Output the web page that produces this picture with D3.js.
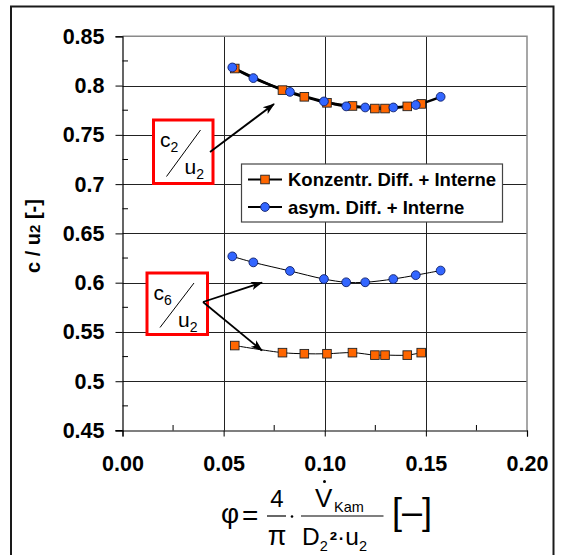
<!DOCTYPE html>
<html>
<head>
<meta charset="utf-8">
<script src="https://cdn.jsdelivr.net/npm/d3@7"></script>
<style>
  html, body { margin: 0; padding: 0; background: #fff; }
  svg { display: block; }
  text { font-family: "Liberation Sans", Arial, sans-serif; }
</style>
</head>
<body>
<svg id="chart" width="562" height="555"></svg>
<script>
// ---------------- data ----------------
const phiKonz = [0.0555, 0.0791, 0.0899, 0.1011, 0.1137, 0.1248, 0.1298, 0.1408, 0.1477];
const konzC2  = [0.8173, 0.7954, 0.7886, 0.7825, 0.7793, 0.7767, 0.7767, 0.7789, 0.7814];
const konzC6  = [0.5362, 0.5290, 0.5279, 0.5279, 0.5290, 0.5265, 0.5265, 0.5265, 0.5290];
const phiAsym = [0.0543, 0.0647, 0.0828, 0.0996, 0.1106, 0.1200, 0.1339, 0.1450, 0.1573];
const asymC2  = [0.8184, 0.8076, 0.7936, 0.7839, 0.7789, 0.7778, 0.7778, 0.7803, 0.7886];
const asymC6  = [0.6267, 0.6206, 0.6119, 0.6037, 0.6004, 0.6004, 0.6037, 0.6076, 0.6123];
const xTicks = [0.00, 0.05, 0.10, 0.15, 0.20];
const yTicks = [0.45, 0.5, 0.55, 0.6, 0.65, 0.7, 0.75, 0.8, 0.85];
const seriesNames = ["Konzentr. Diff. + Interne", "asym. Diff. + Interne"];

// ---------------- setup ----------------
const svg = d3.select("#chart");
const x = d3.scaleLinear().domain([0, 0.2]).range([122.5, 527]);
const y = d3.scaleLinear().domain([0.45, 0.85]).range([430.5, 36.3]);
const orange = "#ff6600", blue = "#3366ff";

// outer frame
svg.append("rect").attr("x", 11).attr("y", 6.5).attr("width", 542.5).attr("height", 600)
  .attr("fill", "none").attr("stroke", "#1a1a1a").attr("stroke-width", 2);

// grid
const g = svg.append("g");
g.selectAll(".hg").data(yTicks.filter(v => v > 0.45 && v < 0.85)).join("line")
  .attr("x1", x(0)).attr("x2", x(0.2))
  .attr("y1", d => Math.round(y(d)) + 0.5).attr("y2", d => Math.round(y(d)) + 0.5)
  .attr("stroke", "#222").attr("stroke-width", 1);
g.selectAll(".vg").data(xTicks.filter(v => v > 0 && v < 0.2)).join("line")
  .attr("x1", d => Math.round(x(d)) + 0.5).attr("x2", d => Math.round(x(d)) + 0.5)
  .attr("y1", y(0.85)).attr("y2", y(0.45))
  .attr("stroke", "#222").attr("stroke-width", 1);
// plot frame top / right (gray)
g.append("path")
  .attr("d", `M${x(0)},${y(0.85)}H${x(0.2)}V${y(0.45)}`)
  .attr("fill", "none").attr("stroke", "#8a8a8a").attr("stroke-width", 1.5);

// axes
const yAxis = d3.axisLeft(y).tickValues(yTicks).tickSize(7).tickFormat(d => d3.format("")(+d.toFixed(2)));
const yG = svg.append("g").attr("transform", `translate(${x(0)},0)`).call(yAxis);
yG.select(".domain").attr("stroke", "#000").attr("stroke-width", 1.2);
yG.selectAll(".tick line").attr("stroke", "#000");
yG.selectAll(".tick text").attr("font-size", 21.5).attr("font-weight", "bold")
  .attr("font-family", "Liberation Sans, Arial, sans-serif").attr("fill", "#000").attr("x", -18);
const yMinor = d3.range(0.475, 0.85, 0.05);
svg.append("g").selectAll("line").data(yMinor).join("line")
  .attr("x1", x(0)).attr("x2", x(0) + 5.5)
  .attr("y1", d => y(d)).attr("y2", d => y(d)).attr("stroke", "#000");

const xAxis = d3.axisBottom(x).tickValues(xTicks).tickSize(6).tickFormat(d3.format(".2f"));
const xG = svg.append("g").attr("transform", `translate(0,${y(0.45)})`).call(xAxis);
xG.select(".domain").attr("stroke", "#000").attr("stroke-width", 1.2);
xG.selectAll(".tick line").attr("stroke", "#000");
xG.selectAll(".tick text").attr("font-size", 21.5).attr("font-weight", "bold")
  .attr("font-family", "Liberation Sans, Arial, sans-serif").attr("fill", "#000").attr("y", 25);
const xMinor = d3.range(0.025, 0.2, 0.05);
svg.append("g").selectAll("line").data(xMinor).join("line")
  .attr("x1", d => x(d)).attr("x2", d => x(d))
  .attr("y1", y(0.45)).attr("y2", y(0.45) - 5.5).attr("stroke", "#000");
svg.append("line").attr("x1", x(0) - 7).attr("x2", x(0)).attr("y1", y(0.45)).attr("y2", y(0.45)).attr("stroke", "#000");

// y axis title
const yt = svg.append("text").attr("transform", `translate(40,236) rotate(-90)`)
  .attr("text-anchor", "middle").attr("font-size", 20).attr("font-weight", "bold");
yt.append("tspan").text("c / u");
yt.append("tspan").attr("font-size", 15).text("2");
yt.append("tspan").text(" [-]");

// ---------------- data lines ----------------
const line = d3.line().curve(d3.curveCatmullRom.alpha(0.5));
function drawSeries(xs, ys, width) {
  svg.append("path").datum(xs.map((v, i) => [x(v), y(ys[i])]))
    .attr("d", line).attr("fill", "none").attr("stroke", "#000").attr("stroke-width", width);
}
drawSeries(phiKonz, konzC2, 2.5);
drawSeries(phiAsym, asymC2, 2.5);
drawSeries(phiKonz, konzC6, 1);
drawSeries(phiAsym, asymC6, 1);

function squares(xs, ys) {
  svg.append("g").selectAll("rect").data(xs.map((v, i) => [v, ys[i]])).join("rect")
    .attr("x", d => x(d[0]) - 4.3).attr("y", d => y(d[1]) - 4.3)
    .attr("width", 8.6).attr("height", 8.6)
    .attr("fill", orange).attr("stroke", "#222").attr("stroke-width", 0.9);
}
function circles(xs, ys) {
  svg.append("g").selectAll("circle").data(xs.map((v, i) => [v, ys[i]])).join("circle")
    .attr("cx", d => x(d[0])).attr("cy", d => y(d[1])).attr("r", 4.4)
    .attr("fill", blue).attr("stroke", "#10206a").attr("stroke-width", 0.9);
}
squares(phiKonz, konzC2);
circles(phiAsym, asymC2);
circles(phiAsym, asymC6);
squares(phiKonz, konzC6);

// ---------------- legend ----------------
const lg = svg.append("g");
lg.append("rect").attr("x", 241.5).attr("y", 164).attr("width", 261).attr("height", 58)
  .attr("fill", "#fff").attr("stroke", "#444").attr("stroke-width", 1.2);
seriesNames.forEach((name, i) => {
  const cy = 179.5 + i * 27.5;
  lg.append("line").attr("x1", 248).attr("x2", 282).attr("y1", cy).attr("y2", cy)
    .attr("stroke", "#000").attr("stroke-width", 2);
  if (i === 0) {
    lg.append("rect").attr("x", 265 - 4.3).attr("y", cy - 4.3).attr("width", 8.6).attr("height", 8.6)
      .attr("fill", orange).attr("stroke", "#222").attr("stroke-width", 0.9);
  } else {
    lg.append("circle").attr("cx", 265).attr("cy", cy).attr("r", 4.4)
      .attr("fill", blue).attr("stroke", "#10206a").attr("stroke-width", 0.9);
  }
  lg.append("text").attr("x", 288).attr("y", cy + 6.8).attr("font-size", 18.5)
    .attr("font-weight", "bold").attr("fill", "#000").text(name);
});

// ---------------- annotations ----------------
const defs = svg.append("defs");
defs.append("marker").attr("id", "arr").attr("viewBox", "0 -5 12 10")
  .attr("refX", 11).attr("refY", 0).attr("markerWidth", 12).attr("markerHeight", 10)
  .attr("markerUnits", "userSpaceOnUse").attr("orient", "auto")
  .append("path").attr("d", "M0,-4.2L12,0L0,4.2L3,0Z").attr("fill", "#000");

function ratioBox(bx, by, bw, bh, idx) {
  const a = svg.append("g");
  a.append("rect").attr("x", bx).attr("y", by).attr("width", bw).attr("height", bh)
    .attr("fill", "#fff").attr("stroke", "#ff0000").attr("stroke-width", 3);
  const t1 = a.append("text").attr("x", bx + 6.5).attr("y", by + 27).attr("font-size", 21);
  t1.append("tspan").text("c");
  t1.append("tspan").attr("font-size", 14).attr("dy", 5).text(idx);
  a.append("line").attr("x1", bx + 13).attr("y1", bh + by - 7).attr("x2", bx + 47).attr("y2", by + 10)
    .attr("stroke", "#000").attr("stroke-width", 1);
  const t2 = a.append("text").attr("x", bx + 31).attr("y", by + 54).attr("font-size", 21);
  t2.append("tspan").text("u");
  t2.append("tspan").attr("font-size", 14).attr("dy", 5).text("2");
}
ratioBox(153.5, 120, 59.5, 63.5, "2");
ratioBox(147, 273, 60.5, 61.5, "6");

function arrow(x1, y1, x2, y2) {
  svg.append("line").attr("x1", x1).attr("y1", y1).attr("x2", x2).attr("y2", y2)
    .attr("stroke", "#000").attr("stroke-width", 1.8).attr("marker-end", "url(#arr)");
}
arrow(210, 152, 274, 104);
arrow(203, 302, 262, 282.5);
arrow(203, 302, 262, 350.5);

// ---------------- x axis title (formula) ----------------
const f = svg.append("g").attr("fill", "#000");
const serif = "Liberation Serif, Times New Roman, serif";
f.append("text").attr("x", 221).attr("y", 523).attr("font-family", serif).attr("font-size", 28).text("φ");
f.append("text").attr("x", 242).attr("y", 525).attr("font-family", serif).attr("font-size", 28).text("=");
f.append("text").attr("x", 277).attr("y", 507).attr("text-anchor", "middle").attr("font-size", 24).text("4");
f.append("line").attr("x1", 267).attr("x2", 286).attr("y1", 516).attr("y2", 516).attr("stroke", "#000").attr("stroke-width", 1.2);
f.append("text").attr("x", 277).attr("y", 545).attr("text-anchor", "middle").attr("font-family", serif).attr("font-size", 27).text("π");
f.append("circle").attr("cx", 292).attr("cy", 516.5).attr("r", 1.3);
f.append("text").attr("x", 315).attr("y", 507).attr("font-size", 26).text("V");
f.append("circle").attr("cx", 324.5).attr("cy", 481.5).attr("r", 1.5);
f.append("text").attr("x", 334).attr("y", 512).attr("font-size", 14.5).text("Kam");
f.append("line").attr("x1", 301).attr("x2", 383.5).attr("y1", 516).attr("y2", 516).attr("stroke", "#000").attr("stroke-width", 1.2);
const den = f.append("text").attr("x", 302).attr("y", 545).attr("font-size", 24.5);
den.append("tspan").text("D");
den.append("tspan").attr("font-size", 14.5).attr("dy", 6).text("2");
den.append("tspan").attr("font-size", 22).attr("font-weight", "bold").attr("dy", -3).attr("dx", 2).text("²");
den.append("tspan").attr("dx", 0).attr("dy", -3).text("·");
den.append("tspan").text("u");
den.append("tspan").attr("font-size", 14.5).attr("dy", 6).text("2");
f.append("text").attr("x", 392).attr("y", 524).attr("font-size", 36).attr("font-weight", 300).text("[–]");
</script>
</body>
</html>
